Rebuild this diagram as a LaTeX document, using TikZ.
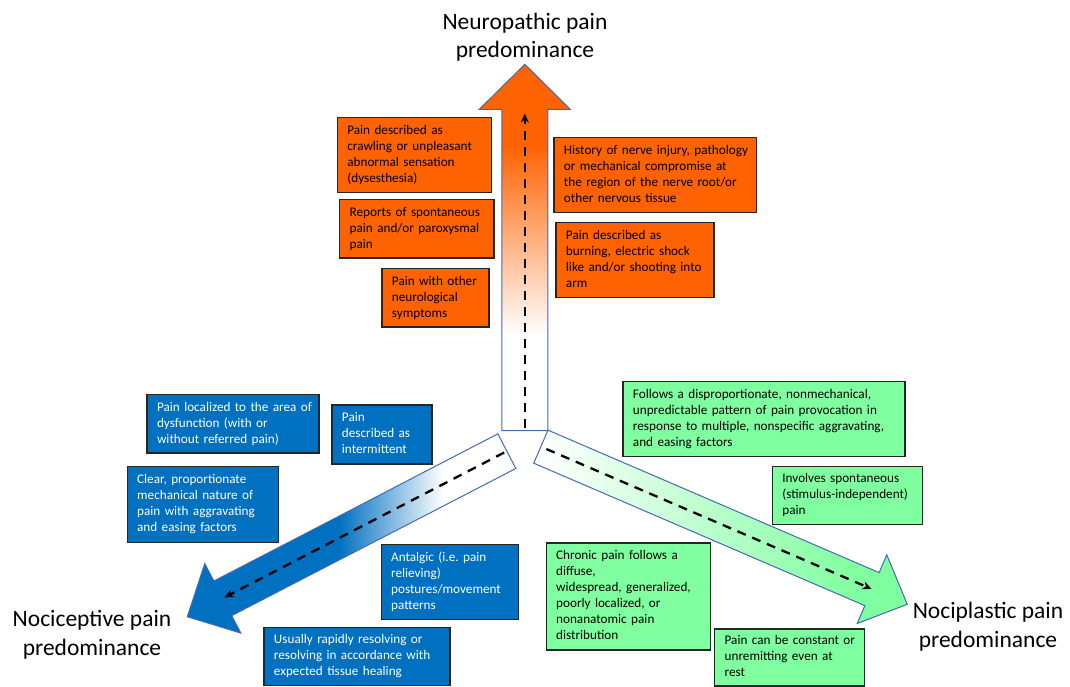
\documentclass[tikz,border=0pt]{standalone}
\usepackage{fontspec}
\setmainfont{Carlito}
\usetikzlibrary{arrows.meta}
\definecolor{orng}{RGB}{255,98,0}
\definecolor{nblue}{RGB}{0,112,192}
\definecolor{ngreen}{RGB}{128,255,160}
\definecolor{outl}{RGB}{68,106,180}
\pgfdeclareverticalshading{orangeshade}{100bp}{color(0bp)=(white); color(38bp)=(white); color(64bp)=(orng); color(100bp)=(orng)}
\pgfdeclarehorizontalshading{blueshade}{100bp}{color(0bp)=(nblue); color(48bp)=(nblue); color(64bp)=(white); color(100bp)=(white)}
\pgfdeclarehorizontalshading{greenshade}{100bp}{color(0bp)=(white); color(26bp)=(white); color(68bp)=(ngreen); color(100bp)=(ngreen)}
\newcommand\boxlines[1]{\begin{tabular}{@{}l@{}}#1\end{tabular}}
\frenchspacing
\begin{document}
\begin{tikzpicture}[x=1pt,y=-1pt,
  box/.style={draw=black!85, line width=1.3pt, anchor=north west, inner xsep=10pt, inner ysep=0pt, align=left, font=\fontsize{13.2}{16}\selectfont},
  ob/.style={box, fill=orng, text=black},
  bb/.style={box, fill=nblue, text=white},
  gb/.style={box, fill=ngreen, text=black},
  title/.style={align=center, font=\fontsize{23.5}{28.5}\selectfont, inner sep=0pt},
  arr/.style={draw=outl, line width=1pt, line join=miter},
  flow/.style={line width=2.3pt, dash pattern=on 9pt off 7pt, -{Stealth[length=9pt,width=8pt]}}
]
\useasboundingbox (0,0) rectangle (1070,686);

% --- big arrows ---
\shadedraw[arr, shading=orangeshade] (501.8,430.7) -- (501.8,109.3) -- (479.3,109.3) -- (524.8,64.3) -- (570.3,109.3) -- (547.8,109.3) -- (547.8,430.7) -- cycle;
\coordinate (ts) at (524.8,428);
\coordinate (te) at (524.8,113.5);

\begin{scope}[shift={(506.85,451.15)}, rotate=207.39]
  \shadedraw[arr, shading=blueshade] (0,-19.5) -- (319.9,-19.5) -- (319.9,-39.2) -- (359.9,0) -- (319.9,39.2) -- (319.9,19.5) -- (0,19.5) -- cycle;
  \coordinate (bs) at (3,0);
  \coordinate (be) at (318,0);
\end{scope}

\begin{scope}[shift={(540.85,446.65)}, rotate=-23.28]
  \shadedraw[arr, shading=greenshade] (0,-18) -- (360.5,-18) -- (360.5,-37.4) -- (398.9,0) -- (360.5,37.4) -- (360.5,18) -- (0,18) -- cycle;
  \coordinate (gs) at (6,0);
  \coordinate (ge) at (360,0);
\end{scope}

\draw[flow] (ts) -- (te);
\draw[flow] (bs) -- (be);
\draw[flow] (gs) -- (ge);

% --- titles ---
\node[title] (tn) at (525,37) {Neuropathic pain\\predominance};
\node[title] (tl) at (92,635) {Nociceptive pain\\predominance};
\node[title] (tr) at (988,626.5) {Nociplastic pain\\predominance};

% --- orange boxes ---
\node[ob, minimum width=154pt, minimum height=75pt, text width=134pt] (o1) at (336.7,116.7)
  {\boxlines{Pain described as\\crawling or unpleasant\\abnormal sensation\\(dysesthesia)}};
\node[ob, minimum width=202.4pt, minimum height=75pt, text width=182.4pt] (o2) at (553.3,136.7)
  {\boxlines{History of nerve injury, pathology\\or mechanical compromise at\\the region of the nerve root/or\\other nervous tissue}};
\node[ob, minimum width=154.3pt, minimum height=58.3pt, text width=134.3pt] (o3) at (339,199)
  {\boxlines{Reports of spontaneous\\pain and/or paroxysmal\\pain}};
\node[ob, minimum width=158pt, minimum height=75pt, text width=138pt] (o4) at (555.3,221.7)
  {\boxlines{Pain described as\\burning, electric shock\\like and/or shooting into\\arm}};
\node[ob, minimum width=107pt, minimum height=58.3pt, text width=87pt] (o5) at (381.3,268)
  {\boxlines{Pain with other\\neurological\\symptoms}};

% --- blue boxes ---
\node[bb, minimum width=172pt, minimum height=58.3pt, text width=152pt] (b1) at (146.4,394)
  {\boxlines{Pain localized to the area of\\dysfunction (with or\\without referred pain)}};
\node[bb, minimum width=100pt, minimum height=59pt, text width=80pt] (b2) at (331.3,404.3)
  {\boxlines{Pain\\described as\\intermittent}};
\node[bb, minimum width=151pt, minimum height=75.5pt, text width=131pt] (b3) at (126.5,466)
  {\boxlines{Clear, proportionate\\mechanical nature of\\pain with aggravating\\and easing factors}};
\node[bb, minimum width=137pt, minimum height=75pt, text width=117pt] (b4) at (380.5,544)
  {\boxlines{Antalgic (i.e. pain\\relieving)\\postures/movement\\patterns}};
\node[bb, minimum width=186pt, minimum height=58.3pt, text width=166pt] (b5) at (263.3,626.7)
  {\boxlines{Usually rapidly resolving or\\resolving in accordance with\\expected tissue healing}};

% --- green boxes ---
\node[gb, minimum width=282pt, minimum height=75pt, text width=262pt] (g1) at (622.3,380.7)
  {\boxlines{Follows a disproportionate, nonmechanical,\\unpredictable pattern of pain provocation in\\response to multiple, nonspecific aggravating,\\and easing factors}};
\node[gb, minimum width=150pt, minimum height=58pt, text width=130pt] (g2) at (771.7,466)
  {\boxlines{Involves spontaneous\\(stimulus-independent)\\pain}};
\node[gb, minimum width=164pt, minimum height=107pt, text width=144pt] (g3) at (545.5,542.3)
  {\boxlines{Chronic pain follows a\\diffuse,\\widespread, generalized,\\poorly localized, or\\nonanatomic pain\\distribution}};
\node[gb, minimum width=150pt, minimum height=57pt, text width=130pt] (g4) at (714,628.3)
  {\boxlines{Pain can be constant or\\unremitting even at\\rest}};
\end{tikzpicture}
\end{document}
